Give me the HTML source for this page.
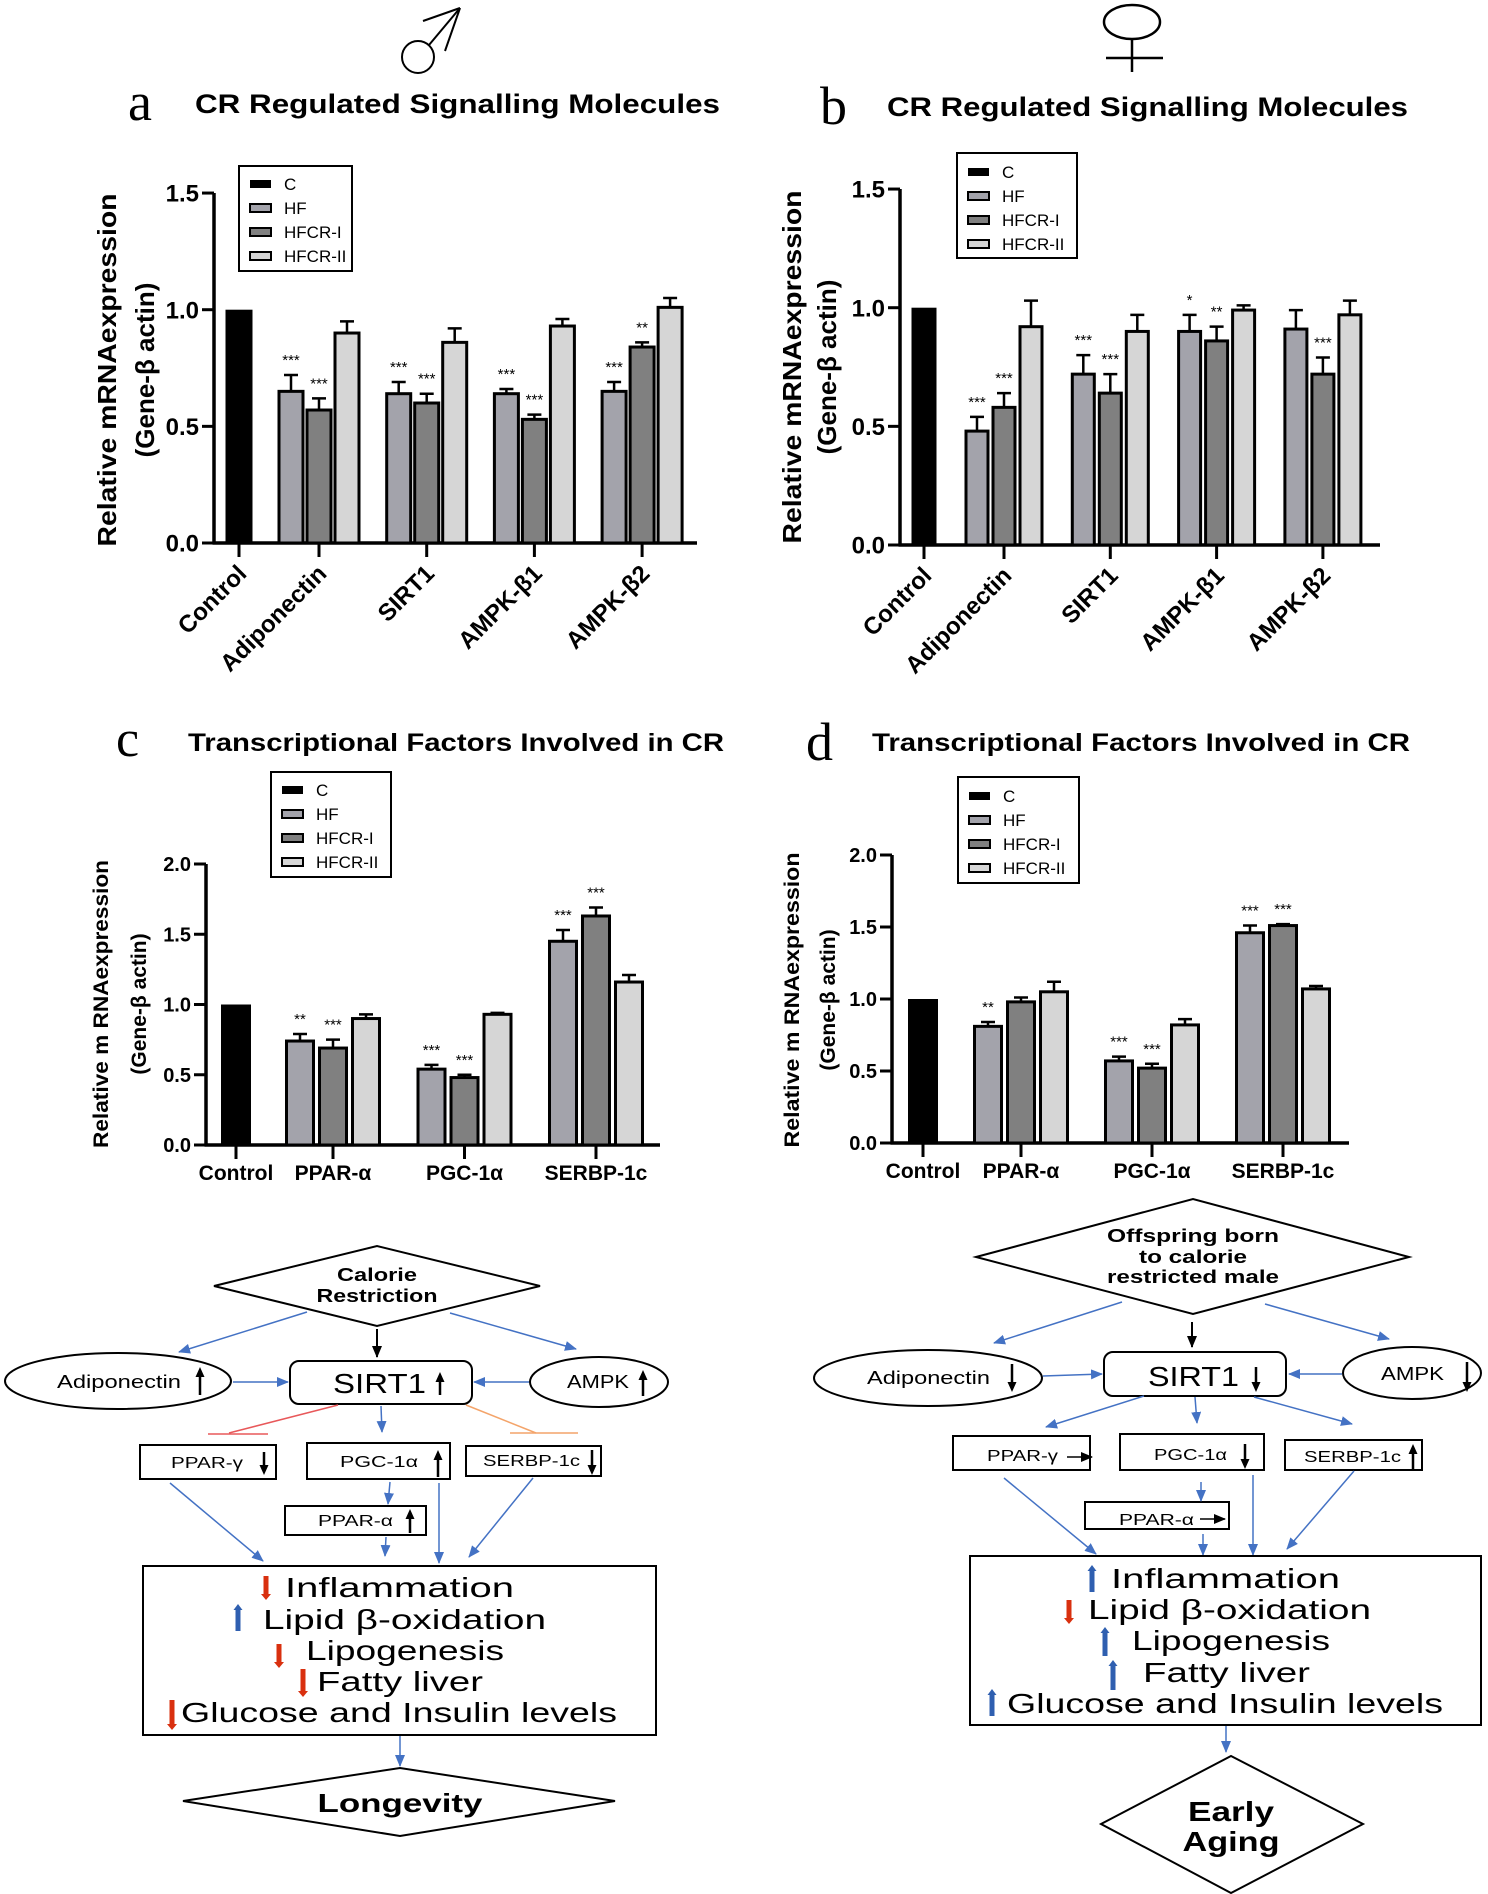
<!DOCTYPE html>
<html><head><meta charset="utf-8"><style>
html,body{margin:0;padding:0;background:#fff;}
svg{display:block;font-family:"Liberation Sans",sans-serif;}
</style></head><body>
<svg id="fig" xmlns="http://www.w3.org/2000/svg" width="1488" height="1894" viewBox="0 0 1488 1894">
<defs>
<marker id="mb" markerWidth="12" markerHeight="10" refX="11" refY="5" orient="auto" markerUnits="userSpaceOnUse"><path d="M0,0 L12,5 L0,10z" fill="#4472c4"/></marker>
<marker id="mk" markerWidth="12" markerHeight="10" refX="11" refY="5" orient="auto" markerUnits="userSpaceOnUse"><path d="M0,0 L12,5 L0,10z" fill="#000"/></marker>
</defs>
<rect width="1488" height="1894" fill="#fff"/>

<g stroke="#000" stroke-width="2" fill="none">
<circle cx="418" cy="57" r="16"/><line x1="429" y1="45" x2="460" y2="8"/><line x1="460" y1="8" x2="423" y2="21"/><line x1="460" y1="8" x2="445" y2="51"/>
</g>
<g stroke="#000" stroke-width="2.5" fill="none">
<ellipse cx="1132" cy="22" rx="28" ry="17"/><line x1="1132" y1="39" x2="1132" y2="72"/><line x1="1106" y1="58" x2="1163" y2="58"/>
</g>

<text x="128" y="120" font-family="Liberation Serif,serif" font-size="54">a</text>
<text x="195" y="113" font-size="27" font-weight="bold" textLength="525" lengthAdjust="spacingAndGlyphs">CR Regulated Signalling Molecules</text>
<text x="820" y="124" font-family="Liberation Serif,serif" font-size="54">b</text>
<text x="887" y="116" font-size="27" font-weight="bold" textLength="521" lengthAdjust="spacingAndGlyphs">CR Regulated Signalling Molecules</text>
<text x="116" y="756" font-family="Liberation Serif,serif" font-size="52">c</text>
<text x="188" y="751" font-size="25" font-weight="bold" textLength="536" lengthAdjust="spacingAndGlyphs">Transcriptional Factors Involved in CR</text>
<text x="806" y="760" font-family="Liberation Serif,serif" font-size="54">d</text>
<text x="872" y="751" font-size="25" font-weight="bold" textLength="538" lengthAdjust="spacingAndGlyphs">Transcriptional Factors Involved in CR</text>

<g font-weight="bold" text-anchor="middle">
<text transform="translate(116,370) rotate(-90)" font-size="26" textLength="353" lengthAdjust="spacingAndGlyphs">Relative mRNAexpression</text>
<text transform="translate(154,370) rotate(-90)" font-size="26">(Gene-β actin)</text>
<text transform="translate(801,367) rotate(-90)" font-size="26" textLength="353" lengthAdjust="spacingAndGlyphs">Relative mRNAexpression</text>
<text transform="translate(836,367) rotate(-90)" font-size="26">(Gene-β actin)</text>
<text transform="translate(108,1004) rotate(-90)" font-size="21" textLength="288" lengthAdjust="spacingAndGlyphs">Relative m RNAexpression</text>
<text transform="translate(146,1004) rotate(-90)" font-size="21">(Gene-β actin)</text>
<text transform="translate(799,1000) rotate(-90)" font-size="21" textLength="295" lengthAdjust="spacingAndGlyphs">Relative m RNAexpression</text>
<text transform="translate(835,1000) rotate(-90)" font-size="21">(Gene-β actin)</text>
</g>

<g id="charts"></g>

<g id="flowL">
<polygon points="214,1286 377,1246 540,1286 377,1326" fill="#fff" stroke="#000" stroke-width="2"/>
<text x="377" y="1281" font-size="18" font-weight="bold" text-anchor="middle" textLength="80" lengthAdjust="spacingAndGlyphs">Calorie</text>
<text x="377" y="1302" font-size="18" font-weight="bold" text-anchor="middle" textLength="121" lengthAdjust="spacingAndGlyphs">Restriction</text>
<line x1="377" y1="1329" x2="377" y2="1357" stroke="#000" stroke-width="2" marker-end="url(#mk)"/>
<line x1="307" y1="1312" x2="179" y2="1352" stroke="#4472c4" stroke-width="1.5" marker-end="url(#mb)"/>
<line x1="450" y1="1313" x2="576" y2="1349" stroke="#4472c4" stroke-width="1.5" marker-end="url(#mb)"/>
<ellipse cx="118" cy="1381" rx="113" ry="28" fill="#fff" stroke="#000" stroke-width="2"/>
<text x="57" y="1388" font-size="18" textLength="124" lengthAdjust="spacingAndGlyphs">Adiponectin</text>
<rect x="290" y="1361" width="182" height="43" rx="9" fill="#fff" stroke="#000" stroke-width="2"/>
<text x="333" y="1393" font-size="28" textLength="93" lengthAdjust="spacingAndGlyphs">SIRT1</text>
<ellipse cx="599" cy="1382" rx="69" ry="25" fill="#fff" stroke="#000" stroke-width="2"/>
<text x="567" y="1388" font-size="18" textLength="62" lengthAdjust="spacingAndGlyphs">AMPK</text>
<line x1="233" y1="1382" x2="288" y2="1382" stroke="#4472c4" stroke-width="1.5" marker-end="url(#mb)"/>
<line x1="529" y1="1382" x2="474" y2="1382" stroke="#4472c4" stroke-width="1.5" marker-end="url(#mb)"/>
<line x1="338" y1="1405" x2="229" y2="1433" stroke="#e8585a" stroke-width="1.5"/>
<line x1="208" y1="1434" x2="268" y2="1434" stroke="#e8585a" stroke-width="1.5"/>
<line x1="381" y1="1406" x2="382" y2="1432" stroke="#4472c4" stroke-width="1.5" marker-end="url(#mb)"/>
<line x1="466" y1="1405" x2="536" y2="1433" stroke="#f4a46a" stroke-width="1.5"/>
<line x1="510" y1="1433" x2="578" y2="1433" stroke="#f4a46a" stroke-width="1.5"/>
<rect x="140" y="1445" width="136" height="34" fill="#fff" stroke="#000" stroke-width="2"/>
<text x="171" y="1468" font-size="16" textLength="72" lengthAdjust="spacingAndGlyphs">PPAR-γ</text>
<rect x="307" y="1443" width="143" height="36" fill="#fff" stroke="#000" stroke-width="2"/>
<text x="340" y="1467" font-size="16" textLength="78" lengthAdjust="spacingAndGlyphs">PGC-1α</text>
<rect x="466" y="1446" width="135" height="30" fill="#fff" stroke="#000" stroke-width="2"/>
<text x="483" y="1466" font-size="16" textLength="97" lengthAdjust="spacingAndGlyphs">SERBP-1c</text>
<rect x="285" y="1506" width="141" height="29" fill="#fff" stroke="#000" stroke-width="2"/>
<text x="318" y="1526" font-size="16" textLength="75" lengthAdjust="spacingAndGlyphs">PPAR-α</text>
<line x1="390" y1="1482" x2="388" y2="1504" stroke="#4472c4" stroke-width="1.5" marker-end="url(#mb)"/>
<line x1="386" y1="1537" x2="385" y2="1556" stroke="#4472c4" stroke-width="1.5" marker-end="url(#mb)"/>
<line x1="439" y1="1483" x2="439" y2="1563" stroke="#4472c4" stroke-width="1.5" marker-end="url(#mb)"/>
<line x1="170" y1="1483" x2="263" y2="1561" stroke="#4472c4" stroke-width="1.5" marker-end="url(#mb)"/>
<line x1="533" y1="1478" x2="469" y2="1557" stroke="#4472c4" stroke-width="1.5" marker-end="url(#mb)"/>
<rect x="143" y="1566" width="513" height="169" fill="#fff" stroke="#000" stroke-width="2"/>
<g font-size="28">
<text x="285" y="1597" textLength="229" lengthAdjust="spacingAndGlyphs">Inflammation</text>
<text x="263" y="1629" textLength="283" lengthAdjust="spacingAndGlyphs">Lipid β-oxidation</text>
<text x="306" y="1660" textLength="198" lengthAdjust="spacingAndGlyphs">Lipogenesis</text>
<text x="317" y="1691" textLength="166" lengthAdjust="spacingAndGlyphs">Fatty liver</text>
<text x="181" y="1722" textLength="436" lengthAdjust="spacingAndGlyphs">Glucose and Insulin levels</text>
</g>
<line x1="400" y1="1736" x2="400" y2="1766" stroke="#4472c4" stroke-width="1.5" marker-end="url(#mb)"/>
<polygon points="183,1801 400,1768 615,1801 400,1836" fill="#fff" stroke="#000" stroke-width="2"/>
<text x="400" y="1812" font-size="26" font-weight="bold" text-anchor="middle" textLength="165" lengthAdjust="spacingAndGlyphs">Longevity</text>
</g>

<g id="flowR">
<polygon points="976,1257 1193,1199 1409,1257 1193,1314" fill="#fff" stroke="#000" stroke-width="2"/>
<g font-size="18" font-weight="bold" text-anchor="middle">
<text x="1193" y="1242" textLength="172" lengthAdjust="spacingAndGlyphs">Offspring  born</text>
<text x="1193" y="1263" textLength="108" lengthAdjust="spacingAndGlyphs">to calorie</text>
<text x="1193" y="1283" textLength="172" lengthAdjust="spacingAndGlyphs">restricted male</text>
</g>
<line x1="1192" y1="1322" x2="1192" y2="1347" stroke="#000" stroke-width="2" marker-end="url(#mk)"/>
<line x1="1122" y1="1302" x2="994" y2="1343" stroke="#4472c4" stroke-width="1.5" marker-end="url(#mb)"/>
<line x1="1265" y1="1304" x2="1389" y2="1339" stroke="#4472c4" stroke-width="1.5" marker-end="url(#mb)"/>
<ellipse cx="928" cy="1378" rx="114" ry="28" fill="#fff" stroke="#000" stroke-width="2"/>
<text x="867" y="1384" font-size="18" textLength="123" lengthAdjust="spacingAndGlyphs">Adiponectin</text>
<rect x="1104" y="1352" width="182" height="44" rx="9" fill="#fff" stroke="#000" stroke-width="2"/>
<text x="1148" y="1386" font-size="28" textLength="91" lengthAdjust="spacingAndGlyphs">SIRT1</text>
<ellipse cx="1412" cy="1373" rx="69" ry="26" fill="#fff" stroke="#000" stroke-width="2"/>
<text x="1381" y="1380" font-size="18" textLength="63" lengthAdjust="spacingAndGlyphs">AMPK</text>
<line x1="1043" y1="1376" x2="1102" y2="1374" stroke="#4472c4" stroke-width="1.5" marker-end="url(#mb)"/>
<line x1="1342" y1="1374" x2="1289" y2="1374" stroke="#4472c4" stroke-width="1.5" marker-end="url(#mb)"/>
<line x1="1144" y1="1396" x2="1046" y2="1427" stroke="#4472c4" stroke-width="1.5" marker-end="url(#mb)"/>
<line x1="1195" y1="1397" x2="1197" y2="1423" stroke="#4472c4" stroke-width="1.5" marker-end="url(#mb)"/>
<line x1="1254" y1="1397" x2="1352" y2="1424" stroke="#4472c4" stroke-width="1.5" marker-end="url(#mb)"/>
<rect x="953" y="1436" width="137" height="34" fill="#fff" stroke="#000" stroke-width="2"/>
<text x="987" y="1461" font-size="16" textLength="71" lengthAdjust="spacingAndGlyphs">PPAR-γ</text>
<line x1="1067" y1="1457" x2="1092" y2="1457" stroke="#000" stroke-width="1.5" marker-end="url(#mk)"/>
<rect x="1120" y="1434" width="144" height="36" fill="#fff" stroke="#000" stroke-width="2"/>
<text x="1154" y="1460" font-size="16" textLength="73" lengthAdjust="spacingAndGlyphs">PGC-1α</text>
<rect x="1285" y="1440" width="137" height="30" fill="#fff" stroke="#000" stroke-width="2"/>
<text x="1304" y="1462" font-size="16" textLength="97" lengthAdjust="spacingAndGlyphs">SERBP-1c</text>
<rect x="1085" y="1502" width="144" height="27" fill="#fff" stroke="#000" stroke-width="2"/>
<text x="1119" y="1525" font-size="16" textLength="75" lengthAdjust="spacingAndGlyphs">PPAR-α</text>
<line x1="1200" y1="1519" x2="1225" y2="1519" stroke="#000" stroke-width="1.5" marker-end="url(#mk)"/>
<line x1="1201" y1="1482" x2="1201" y2="1501" stroke="#4472c4" stroke-width="1.5" marker-end="url(#mb)"/>
<line x1="1203" y1="1534" x2="1203" y2="1555" stroke="#4472c4" stroke-width="1.5" marker-end="url(#mb)"/>
<line x1="1253" y1="1475" x2="1253" y2="1555" stroke="#4472c4" stroke-width="1.5" marker-end="url(#mb)"/>
<line x1="1004" y1="1478" x2="1096" y2="1554" stroke="#4472c4" stroke-width="1.5" marker-end="url(#mb)"/>
<line x1="1354" y1="1471" x2="1287" y2="1549" stroke="#4472c4" stroke-width="1.5" marker-end="url(#mb)"/>
<rect x="970" y="1556" width="511" height="169" fill="#fff" stroke="#000" stroke-width="2"/>
<g font-size="28">
<text x="1111" y="1588" textLength="229" lengthAdjust="spacingAndGlyphs">Inflammation</text>
<text x="1088" y="1619" textLength="283" lengthAdjust="spacingAndGlyphs">Lipid β-oxidation</text>
<text x="1132" y="1650" textLength="198" lengthAdjust="spacingAndGlyphs">Lipogenesis</text>
<text x="1143" y="1682" textLength="167" lengthAdjust="spacingAndGlyphs">Fatty liver</text>
<text x="1007" y="1713" textLength="436" lengthAdjust="spacingAndGlyphs">Glucose and Insulin levels</text>
</g>
<line x1="1226" y1="1726" x2="1226" y2="1752" stroke="#4472c4" stroke-width="1.5" marker-end="url(#mb)"/>
<polygon points="1101,1824 1231,1756 1363,1824 1231,1893" fill="#fff" stroke="#000" stroke-width="2"/>
<text x="1231" y="1821" font-size="28" font-weight="bold" text-anchor="middle" textLength="86" lengthAdjust="spacingAndGlyphs">Early</text>
<text x="1231" y="1851" font-size="28" font-weight="bold" text-anchor="middle" textLength="97" lengthAdjust="spacingAndGlyphs">Aging</text>
</g>
<g id="glyphArrows"></g>
</svg>
<script>
const seriesNames = ["C", "HF", "HFCR-I", "HFCR-II"];
const seriesColors = ["#000000", "#a3a3ab", "#808080", "#d6d6d6"];

const aCategories = ["Adiponectin", "SIRT1", "AMPK-β1", "AMPK-β2"];
const aControl = [1.0];
const aHF = [0.65, 0.64, 0.64, 0.65];
const aHFCR1 = [0.57, 0.60, 0.53, 0.84];
const aHFCR2 = [0.90, 0.86, 0.93, 1.01];
const aErrHF = [0.07, 0.05, 0.02, 0.04];
const aErrHFCR1 = [0.05, 0.04, 0.02, 0.02];
const aErrHFCR2 = [0.05, 0.06, 0.03, 0.04];
const aStarsHF = ["***", "***", "***", "***"];
const aStarsHFCR1 = ["***", "***", "***", "**"];
const aStarsHFCR2 = ["", "", "", ""];
const aTicks = [0, 0.5, 1.0, 1.5];
const aTickLabels = ["0.0", "0.5", "1.0", "1.5"];

const bCategories = ["Adiponectin", "SIRT1", "AMPK-β1", "AMPK-β2"];
const bControl = [1.0];
const bHF = [0.48, 0.72, 0.90, 0.91];
const bHFCR1 = [0.58, 0.64, 0.86, 0.72];
const bHFCR2 = [0.92, 0.90, 0.99, 0.97];
const bErrHF = [0.06, 0.08, 0.07, 0.08];
const bErrHFCR1 = [0.06, 0.08, 0.06, 0.07];
const bErrHFCR2 = [0.11, 0.07, 0.02, 0.06];
const bStarsHF = ["***", "***", "*", ""];
const bStarsHFCR1 = ["***", "***", "**", "***"];
const bStarsHFCR2 = ["", "", "", ""];
const bTicks = [0, 0.5, 1.0, 1.5];
const bTickLabels = ["0.0", "0.5", "1.0", "1.5"];

const cCategories = ["PPAR-α", "PGC-1α", "SERBP-1c"];
const cControl = [1.0];
const cHF = [0.74, 0.54, 1.45];
const cHFCR1 = [0.69, 0.48, 1.63];
const cHFCR2 = [0.90, 0.93, 1.16];
const cErrHF = [0.05, 0.03, 0.08];
const cErrHFCR1 = [0.06, 0.02, 0.06];
const cErrHFCR2 = [0.03, 0.01, 0.05];
const cStarsHF = ["**", "***", "***"];
const cStarsHFCR1 = ["***", "***", "***"];
const cStarsHFCR2 = ["", "", ""];
const cTicks = [0, 0.5, 1.0, 1.5, 2.0];
const cTickLabels = ["0.0", "0.5", "1.0", "1.5", "2.0"];

const dCategories = ["PPAR-α", "PGC-1α", "SERBP-1c"];
const dControl = [1.0];
const dHF = [0.81, 0.57, 1.46];
const dHFCR1 = [0.98, 0.52, 1.51];
const dHFCR2 = [1.05, 0.82, 1.07];
const dErrHF = [0.03, 0.03, 0.05];
const dErrHFCR1 = [0.03, 0.03, 0.01];
const dErrHFCR2 = [0.07, 0.04, 0.02];
const dStarsHF = ["**", "***", "***"];
const dStarsHFCR1 = ["", "***", "***"];
const dStarsHFCR2 = ["", "", ""];
const dTicks = [0, 0.5, 1.0, 1.5, 2.0];
const dTickLabels = ["0.0", "0.5", "1.0", "1.5", "2.0"];

const NS = "http://www.w3.org/2000/svg";
function mk(tag, attrs, parent) {
  const e = document.createElementNS(NS, tag);
  for (const k in attrs) e.setAttribute(k, attrs[k]);
  parent.appendChild(e);
  return e;
}

function drawChart(id, L, cats, ctrl, vals, errs, stars, ticks, tickLabels, rotated) {
  const root = document.getElementById("charts");
  const g = mk("g", {}, root);
  
  
  const ymax = ticks[ticks.length - 1];
  const y = v => L.y0 - v * L.pxu;
  const ya = mk("line", {x1: L.ax, y1: y(ymax), x2: L.ax, y2: L.y0 + 1.5, stroke: "#000", "stroke-width": 3.5}, g);
  
  
  const xa = mk("line", {x1: L.ax - 1.5, y1: L.y0, x2: L.xEnd, y2: L.y0, stroke: "#000", "stroke-width": 3.5}, g);
  
  
  ticks.forEach((t, i) => {
    const tl = mk("line", {x1: L.ax - 12, y1: y(t), x2: L.ax, y2: y(t), stroke: "#000", "stroke-width": 3}, g);
    
    
    const tx = mk("text", {x: L.ax - 15, y: y(t) + L.tfs * 0.36, "font-size": L.tfs, "font-weight": "bold", "text-anchor": "end"}, g);
    tx.textContent = tickLabels[i];
    
    
  });
  const cw = L.bw + 3;
  const cb = mk("rect", {x: L.cx - cw / 2, y: y(ctrl[0]), width: cw, height: L.y0 - y(ctrl[0]), fill: "#000"}, g);
  
  
  const allX = [L.cx];
  const allLab = ["Control"];
  cats.forEach((c, i) => {
    const gx = L.g0 + i * L.gs;
    allX.push(gx); allLab.push(c);
    for (let s = 0; s < 3; s++) {
      const v = vals[s][i], e = errs[s][i];
      const cx = gx + (s - 1) * L.off;
      const r = mk("rect", {x: cx - L.bw / 2, y: y(v), width: L.bw, height: L.y0 - y(v), fill: seriesColors[s + 1], stroke: "#000", "stroke-width": 3}, g);
      
      
      const eb = mk("path", {d: `M${cx},${y(v)} V${y(v + e)} M${cx - 7},${y(v + e)} H${cx + 7}`, stroke: "#000", "stroke-width": 2.5, fill: "none"}, g);
      
      
      if (stars[s][i]) {
        const st = mk("text", {x: cx, y: y(v + e) - 10, "font-size": 15, "text-anchor": "middle"}, g);
        st.textContent = stars[s][i];
        
        
      }
    }
  });
  allX.forEach((x, i) => {
    const tk = mk("line", {x1: x, y1: L.y0, x2: x, y2: L.y0 + 14, stroke: "#000", "stroke-width": 3}, g);
    
    
    let lb;
    if (rotated) {
      lb = mk("text", {transform: `translate(${x + 9},${L.y0 + 32}) rotate(-45)`, "font-size": L.xfs, "font-weight": "bold", "text-anchor": "end"}, g);
    } else {
      lb = mk("text", {x: x, y: L.y0 + 35, "font-size": L.xfs, "font-weight": "bold", "text-anchor": "middle"}, g);
    }
    lb.textContent = allLab[i];
    
    
  });
  const lg = mk("g", {}, g);
  
  
  const box = mk("rect", {x: L.lx, y: L.ly, width: L.lw, height: L.lh, fill: "#fff", stroke: "#000", "stroke-width": 2}, lg);
  
  
  seriesNames.forEach((n, i) => {
    const yy = L.ly + L.le0 + i * L.les;
    const sw = mk("rect", {x: L.lx + 11, y: yy - 4, width: 21, height: 8, fill: seriesColors[i], stroke: "#000", "stroke-width": i ? 2 : 0}, lg);
    
    
    const lt = mk("text", {x: L.lx + 45, y: yy + 6, "font-size": 17}, lg);
    lt.textContent = n;
    
    
  });
}

drawChart("a", {ax: 214, y0: 543, pxu: 233.3, xEnd: 697, cx: 239, g0: 319, gs: 107.7, bw: 24, off: 28, tfs: 24, xfs: 24,
  lx: 239, ly: 166, lw: 113, lh: 105, le0: 18, les: 24},
  aCategories, aControl, [aHF, aHFCR1, aHFCR2], [aErrHF, aErrHFCR1, aErrHFCR2], [aStarsHF, aStarsHFCR1, aStarsHFCR2], aTicks, aTickLabels, true);
drawChart("b", {ax: 900, y0: 545, pxu: 237.3, xEnd: 1380, cx: 924, g0: 1004, gs: 106.3, bw: 22, off: 27, tfs: 24, xfs: 24,
  lx: 957, ly: 153, lw: 120, lh: 105, le0: 19, les: 24},
  bCategories, bControl, [bHF, bHFCR1, bHFCR2], [bErrHF, bErrHFCR1, bErrHFCR2], [bStarsHF, bStarsHFCR1, bStarsHFCR2], bTicks, bTickLabels, true);
drawChart("c", {ax: 206, y0: 1145, pxu: 140.5, xEnd: 660, cx: 236, g0: 333, gs: 131.5, bw: 27, off: 33, tfs: 20, xfs: 21,
  lx: 271, ly: 772, lw: 120, lh: 105, le0: 18, les: 24},
  cCategories, cControl, [cHF, cHFCR1, cHFCR2], [cErrHF, cErrHFCR1, cErrHFCR2], [cStarsHF, cStarsHFCR1, cStarsHFCR2], cTicks, cTickLabels, false);
drawChart("d", {ax: 892, y0: 1143, pxu: 144, xEnd: 1349, cx: 923, g0: 1021, gs: 131, bw: 27, off: 33, tfs: 20, xfs: 21,
  lx: 958, ly: 777, lw: 121, lh: 106, le0: 19, les: 24},
  dCategories, dControl, [dHF, dHFCR1, dHFCR2], [dErrHF, dErrHFCR1, dErrHFCR2], [dStarsHF, dStarsHFCR1, dStarsHFCR2], dTicks, dTickLabels, false);

const ga = document.getElementById("glyphArrows");
function vArrow(name, x, y1, y2, dir, color, w, hw, hl) {
  const top = Math.min(y1, y2), bot = Math.max(y1, y2);
  let d;
  if (dir === "up") d = `M${x - w / 2},${bot} V${top + hl} H${x - hw / 2} L${x},${top} L${x + hw / 2},${top + hl} H${x + w / 2} V${bot} Z`;
  else d = `M${x - w / 2},${top} V${bot - hl} H${x - hw / 2} L${x},${bot} L${x + hw / 2},${bot - hl} H${x + w / 2} V${top} Z`;
  const p = mk("path", {d: d, fill: color}, ga);
  
  
}
const K = "#000", R = "#d9300f", B = "#2f5fb0";
vArrow("adiponectin-up-arrow", 200, 1367, 1395, "up", K, 2.5, 9, 10);
vArrow("sirt1-up-arrow", 440, 1372, 1395, "up", K, 2.5, 9, 10);
vArrow("ampk-up-arrow", 643, 1370, 1396, "up", K, 2.5, 9, 10);
vArrow("pparg-down-arrow", 264, 1452, 1475, "down", K, 2.5, 9, 10);
vArrow("pgc1a-up-arrow", 438, 1450, 1477, "up", K, 2.5, 9, 10);
vArrow("serbp-down-arrow", 592, 1450, 1475, "down", K, 2.5, 9, 10);
vArrow("ppara-up-arrow", 410, 1509, 1533, "up", K, 2.5, 9, 10);
vArrow("inflammation-down-arrow", 266, 1576, 1600, "down", R, 5, 10, 6);
vArrow("lipid-up-arrow", 238, 1604, 1631, "up", B, 5, 9, 6);
vArrow("lipogenesis-down-arrow", 279, 1644, 1668, "down", R, 5, 10, 6);
vArrow("fatty-liver-down-arrow", 303, 1669, 1697, "down", R, 5, 10, 6);
vArrow("glucose-down-arrow", 172, 1700, 1730, "down", R, 5, 10, 6);
vArrow("adiponectin-down-arrow-f", 1012, 1364, 1392, "down", K, 2.5, 9, 10);
vArrow("sirt1-down-arrow-f", 1256, 1367, 1392, "down", K, 2.5, 9, 10);
vArrow("ampk-down-arrow-f", 1467, 1362, 1392, "down", K, 2.5, 9, 10);
vArrow("pgc1a-down-arrow-f", 1245, 1444, 1469, "down", K, 2.5, 9, 10);
vArrow("serbp-up-arrow-f", 1413, 1444, 1469, "up", K, 2.5, 9, 10);
vArrow("inflammation-up-arrow-f", 1092, 1565, 1592, "up", B, 5, 9, 6);
vArrow("lipid-down-arrow-f", 1069, 1600, 1624, "down", R, 5, 10, 6);
vArrow("lipogenesis-up-arrow-f", 1105, 1627, 1656, "up", B, 5, 9, 6);
vArrow("fatty-liver-up-arrow-f", 1113, 1660, 1690, "up", B, 5, 9, 6);
vArrow("glucose-up-arrow-f", 992, 1689, 1716, "up", B, 5, 9, 6);
</script>
</body></html>
